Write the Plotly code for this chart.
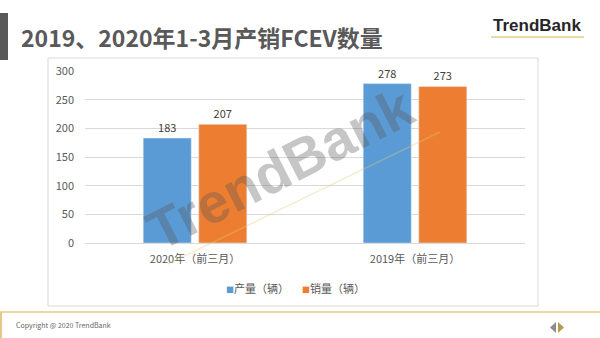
import plotly.graph_objects as go

# Data
categories = ["2020年（前三月）", "2019年（前三月）"]
production = [183, 278]
sales = [207, 273]
series_names = ["产量（辆）", "销量（辆）"]
y_ticks = [0, 50, 100, 150, 200, 250, 300]

W, H = 600, 338
BLUE = "#5B9BD5"
ORANGE = "#ED7D31"
TXT = "#595959"
FONT = "Noto Sans CJK SC, Noto Sans, sans-serif"


def px(x):
    return x / W


def py(y):
    return 1 - y / H


fig = go.Figure()
for vals, name, col in zip([production, sales], series_names, [BLUE, ORANGE]):
    fig.add_bar(x=categories, y=vals, name=name, marker_color=col,
                text=vals, textposition="outside", cliponaxis=False,
                textfont=dict(size=11, color="#404040"), showlegend=False)

shapes = [
    # chart frame
    dict(type="rect", xref="paper", yref="paper", x0=px(48), x1=px(538), y0=py(306), y1=py(58),
         line=dict(color="#d9d9d9", width=1), fillcolor="rgba(0,0,0,0)", layer="below"),
    # title accent bar
    dict(type="rect", xref="paper", yref="paper", x0=0, x1=px(8), y0=py(60), y1=py(13),
         line=dict(width=0), fillcolor="#595959"),
    # logo underline
    dict(type="line", xref="paper", yref="paper", x0=px(491), x1=px(584), y0=py(37), y1=py(37),
         line=dict(color="#e2cf8a", width=1.5)),
    # footer rule and left accent
    dict(type="line", xref="paper", yref="paper", x0=0, x1=1, y0=py(312), y1=py(312),
         line=dict(color="#e6c98a", width=1.5)),
    dict(type="line", xref="paper", yref="paper", x0=px(1), x1=px(1), y0=py(312), y1=0,
         line=dict(color="#e6c98a", width=2)),
    # watermark rule
    dict(type="line", xref="paper", yref="paper", x0=px(168), x1=px(440), y0=py(264), y1=py(132),
         line=dict(color="rgba(226,200,120,0.35)", width=1.5)),
    # footer navigation arrows
    dict(type="path", xref="paper", yref="paper",
         path=f"M {px(556)},{py(322)} L {px(550)},{py(327.5)} L {px(556)},{py(333)} Z",
         fillcolor="#8c8c8c", line=dict(width=0)),
    dict(type="path", xref="paper", yref="paper",
         path=f"M {px(558)},{py(322)} L {px(564)},{py(327.5)} L {px(558)},{py(333)} Z",
         fillcolor="#b39b4f", line=dict(width=0)),
]

legend_items = [
    dict(text=f"<span style='color:{col};font-size:8px'>■</span>{name}", xref="paper", yref="paper",
         x=px(xl), y=py(288), xanchor="left", yanchor="middle", showarrow=False,
         font=dict(size=11, color=TXT, family=FONT))
    for name, col, xl in zip(series_names, [BLUE, ORANGE], [224, 300])
]

annotations = [
    dict(text="<b>2019、2020年1-3月产销FCEV数量</b>", xref="paper", yref="paper",
         x=px(19), y=py(37), xanchor="left", yanchor="middle", showarrow=False,
         font=dict(size=23, color=TXT, family=FONT)),
    dict(text="<b>TrendBank</b>", xref="paper", yref="paper",
         x=px(537), y=py(26), xanchor="center", yanchor="middle", showarrow=False,
         font=dict(size=17, color="#262626", family="Liberation Sans, Arial, sans-serif")),
    dict(text="Copyright @ 2020 TrendBank", xref="paper", yref="paper",
         x=px(14), y=py(325), xanchor="left", yanchor="middle", showarrow=False,
         font=dict(size=7, color="#666666", family=FONT)),
    # watermark
    dict(text="<b>TrendBank</b>", xref="paper", yref="paper",
         x=px(280), y=py(168), xanchor="center", yanchor="middle", showarrow=False,
         textangle=-27, opacity=0.33,
         font=dict(size=56, color="#555555", family="Liberation Sans, Arial, sans-serif")),
] + legend_items

fig.update_layout(
    width=W, height=H, autosize=False,
    margin=dict(l=0, r=0, t=0, b=0, pad=0, autoexpand=False),
    paper_bgcolor="white", plot_bgcolor="white",
    barmode="group", bargap=0.495, bargroupgap=0.135,
    font=dict(family=FONT, color=TXT, size=11),
    showlegend=False,
    xaxis=dict(domain=[px(85), px(525)], showline=True, linecolor="#d9d9d9",
               ticks="", ticklabelstandoff=6, tickfont=dict(size=11, color=TXT)),
    yaxis=dict(domain=[1 - 243 / H, 1 - 71 / H], range=[0, 300], tickvals=y_ticks,
               showgrid=True, gridcolor="#d9d9d9", zeroline=False, ticks="",
               ticklabelstandoff=10, tickfont=dict(size=11, color=TXT)),
    shapes=shapes,
    annotations=annotations,
)

fig.write_html("out.html")
